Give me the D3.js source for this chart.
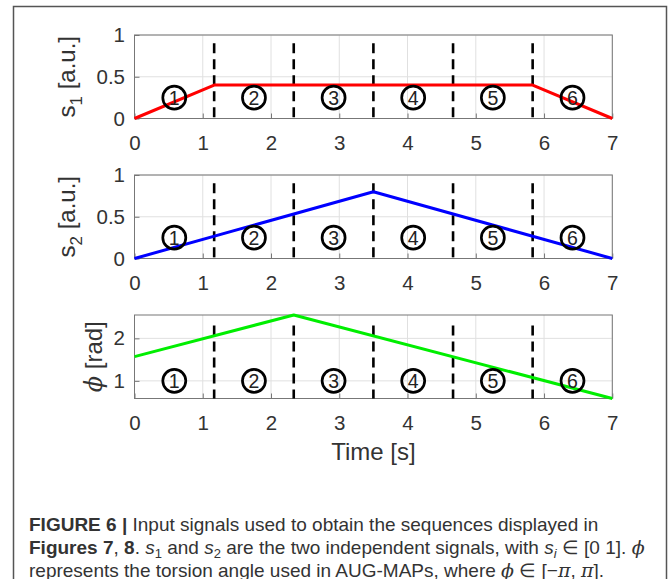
<!DOCTYPE html>
<html>
<head>
<meta charset="utf-8">
<script src="https://cdn.jsdelivr.net/npm/d3@7/dist/d3.min.js"></script>
<style>
  html, body { margin: 0; padding: 0; background: #ffffff; }
  svg { display: block; }
</style>
</head>
<body>
<div id="chart"></div>
<script>
// ---------- data ----------
const timeTicks = [0, 1, 2, 3, 4, 5, 6, 7];
const timeDomain = [0, 7];

const s1Time = [0, 1.167, 5.833, 7];
const s1Values = [0, 0.4, 0.4, 0];

const s2Time = [0, 3.5, 7];
const s2Values = [0, 0.8, 0];

const phiTime = [0, 2.333, 7];
const phiValues = [1.571, 2.55, 0.585];

const phaseBounds = [1.167, 2.333, 3.5, 4.667, 5.833];
const phaseCenters = [0.583, 1.75, 2.917, 4.083, 5.25, 6.417];
const phaseLabels = ["1", "2", "3", "4", "5", "6"];

const s1Ticks = [0, 0.5, 1];
const s2Ticks = [0, 0.5, 1];
const phiTicks = [1, 2];

const s1Domain = [0, 1];
const s2Domain = [0, 1];
const phiDomain = [0.585, 2.55];

const dashTops = [0.9, 0.9, 2.3];
const labelLevels = [0.25, 0.25, 1.0];

const captionLine1 = "Input signals used to obtain the sequences displayed in";

// ---------- layout ----------
const W = 670, H = 579;
const plotLeft = 134.5, plotRight = 612.3;
const panelTops = [35, 175, 315];
const panelH = 83.5;
const FS = 20.5;      // tick labels
const LFS = 24;       // axis labels
const textColor = "#333333";

const svg = d3.select("#chart").append("svg")
  .attr("width", W).attr("height", H)
  .style("font-family", "'Liberation Sans', Arial, Helvetica, sans-serif");

// outer frame
svg.append("path")
  .attr("d", `M13.5,${H + 5} L13.5,6.5 L666.5,6.5 L666.5,${H + 5}`)
  .attr("fill", "none").attr("stroke", "#555").attr("stroke-width", 1.5);

const x = d3.scaleLinear().domain(timeDomain).range([plotLeft, plotRight]);

const panels = [
  { time: s1Time, values: s1Values, domain: s1Domain, ticks: s1Ticks, color: "#ff0000" },
  { time: s2Time, values: s2Values, domain: s2Domain, ticks: s2Ticks, color: "#0000ff" },
  { time: phiTime, values: phiValues, domain: phiDomain, ticks: phiTicks, color: "#00ee00" }
];

panels.forEach((p, i) => {
  const top = panelTops[i];
  const y = d3.scaleLinear().domain(p.domain).range([top + panelH, top]);
  const g = svg.append("g");

  // grid
  g.append("g").selectAll("line").data(timeTicks).join("line")
    .attr("x1", d => x(d)).attr("x2", d => x(d))
    .attr("y1", top).attr("y2", top + panelH)
    .attr("stroke", "#e0e0e0").attr("stroke-width", 1);
  g.append("g").selectAll("line").data(p.ticks).join("line")
    .attr("x1", plotLeft).attr("x2", plotRight)
    .attr("y1", d => y(d)).attr("y2", d => y(d))
    .attr("stroke", "#e0e0e0").attr("stroke-width", 1);

  // axes
  const xa = g.append("g").attr("transform", `translate(0,${top + panelH})`)
    .call(d3.axisBottom(x).tickValues(timeTicks).tickFormat(d3.format("d"))
      .tickSizeInner(-5).tickSizeOuter(0).tickPadding(17));
  const ya = g.append("g").attr("transform", `translate(${plotLeft},0)`)
    .call(d3.axisLeft(y).tickValues(p.ticks).tickFormat(d3.format("~g"))
      .tickSizeInner(-5).tickSizeOuter(0).tickPadding(9.5));
  [xa, ya].forEach(a => {
    a.select(".domain").remove();
    a.selectAll(".tick line").attr("stroke", "#777");
    a.selectAll(".tick text").attr("fill", textColor)
      .style("font-size", FS + "px").style("font-family", "'Liberation Sans', Arial, sans-serif");
  });

  // box
  g.append("rect").attr("x", plotLeft).attr("y", top)
    .attr("width", plotRight - plotLeft).attr("height", panelH)
    .attr("fill", "none").attr("stroke", "#777").attr("stroke-width", 1);

  // dashed phase boundaries
  g.append("g").selectAll("line").data(phaseBounds).join("line")
    .attr("x1", d => x(d)).attr("x2", d => x(d))
    .attr("y1", y(dashTops[i])).attr("y2", top + panelH)
    .attr("stroke", "#000").attr("stroke-width", 2.6)
    .attr("stroke-dasharray", "10,6");

  // signal line
  const line = d3.line().x((d, k) => x(p.time[k])).y(d => y(d));
  g.append("path").datum(p.values).attr("d", line)
    .attr("fill", "none").attr("stroke", p.color).attr("stroke-width", 3)
    .attr("stroke-linejoin", "round");

  // circled phase numbers
  const lg = g.append("g").selectAll("g").data(phaseCenters).join("g")
    .attr("transform", d => `translate(${x(d)},${y(labelLevels[i])})`);
  lg.append("ellipse").attr("rx", 11.5).attr("ry", 11.5)
    .attr("fill", "none").attr("stroke", "#000").attr("stroke-width", 2.7);
  lg.append("text").text((d, k) => phaseLabels[k])
    .attr("text-anchor", "middle").attr("dy", "0.37em")
    .attr("fill", "#222").style("font-size", "19.5px");

  // y label
  const lx = i < 2 ? 75 : 102;
  const cy = top + panelH / 2;
  const yl = g.append("text")
    .attr("transform", `translate(${lx},${cy}) rotate(-90)`)
    .attr("text-anchor", "middle").attr("fill", textColor)
    .style("font-size", LFS + "px");
  if (i < 2) {
    yl.append("tspan").text("s");
    yl.append("tspan").attr("dy", 7).style("font-size", "17px").text(i === 0 ? "1" : "2");
    yl.append("tspan").attr("dy", -7).text(" [a.u.]");
  } else {
    yl.append("tspan").style("font-family", "'DejaVu Serif', serif").style("font-style", "italic").text("ϕ");
    yl.append("tspan").text(" [rad]");
  }
});

// x axis label
svg.append("text").attr("x", (plotLeft + plotRight) / 2).attr("y", 460)
  .attr("text-anchor", "middle").attr("fill", textColor)
  .style("font-size", LFS + "px").text("Time [s]");

// caption
const CFS = 19;
const cap = svg.append("g").attr("fill", "#333").style("font-size", CFS + "px")
  .style("font-family", "'Liberation Sans', Arial, sans-serif");
const l1 = cap.append("text").attr("x", 29).attr("y", 531);
l1.append("tspan").style("font-weight", "bold").text("FIGURE 6 | ");
l1.append("tspan").text(captionLine1);

const l2 = cap.append("text").attr("x", 29).attr("y", 554);
l2.append("tspan").style("font-weight", "bold").text("Figures 7");
l2.append("tspan").text(", ");
l2.append("tspan").style("font-weight", "bold").text("8");
l2.append("tspan").text(". ");
l2.append("tspan").style("font-style", "italic").text("s");
l2.append("tspan").attr("dy", 4).style("font-size", "13px").text("1");
l2.append("tspan").attr("dy", -4).text(" and ");
l2.append("tspan").style("font-style", "italic").text("s");
l2.append("tspan").attr("dy", 4).style("font-size", "13px").text("2");
l2.append("tspan").attr("dy", -4).text(" are the two independent signals, with ");
l2.append("tspan").style("font-style", "italic").text("s");
l2.append("tspan").attr("dy", 4).style("font-size", "13px").style("font-style", "italic").text("i");
l2.append("tspan").attr("dy", -4).text(" ∈ [0 1]. ");
l2.append("tspan").style("font-family", "'DejaVu Serif', serif").style("font-style", "italic").text("ϕ");

const l3 = cap.append("text").attr("x", 29).attr("y", 576.5);
l3.append("tspan").text("represents the torsion angle used in AUG-MAPs, where ");
l3.append("tspan").style("font-family", "'DejaVu Serif', serif").style("font-style", "italic").text("ϕ");
l3.append("tspan").text(" ∈ [−");
l3.append("tspan").style("font-family", "'DejaVu Serif', serif").style("font-style", "italic").text("π");
l3.append("tspan").text(", ");
l3.append("tspan").style("font-family", "'DejaVu Serif', serif").style("font-style", "italic").text("π");
l3.append("tspan").text("].");
</script>
</body>
</html>
